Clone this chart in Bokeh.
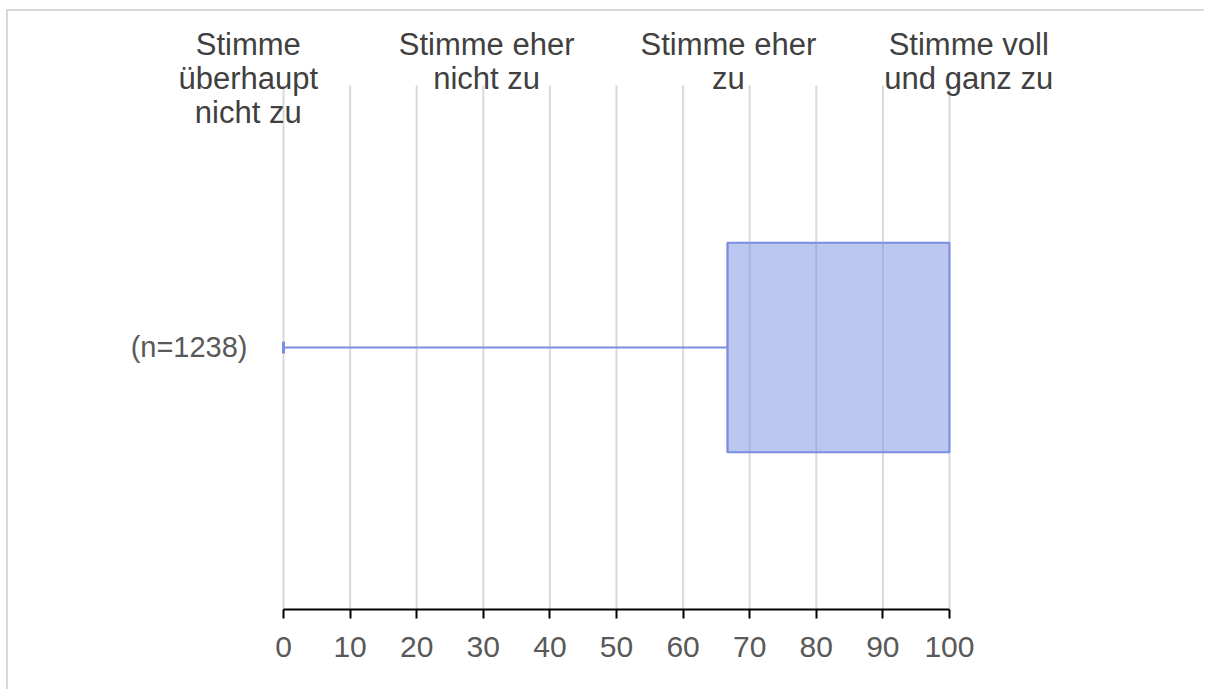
from bokeh.plotting import figure
from bokeh.models import Range1d, FixedTicker
from bokeh.core.properties import value
from bokeh.embed import file_html
from bokeh.resources import INLINE
import math

# ---- data ----
group_label = "(n=1238)"
whisker_low = 0.0
q1 = 66.67
median = 66.67
q3 = 100.0
whisker_high = 100.0
x_ticks = [0, 10, 20, 30, 40, 50, 60, 70, 80, 90, 100]
header_texts = ["Stimme\nüberhaupt\nnicht zu", "Stimme eher\nnicht zu", "Stimme eher\nzu", "Stimme voll\nund ganz zu"]

# ---- layout / style ----
header_x = [-5.3, 30.5, 66.8, 102.9]
header_top_y = 1.078
header_line_step = 0.065
group_y = 0.5
box_height = 0.4
grid_top = 1.0

FONT = "Liberation Sans"
BLUE = "#7a8fe2"
GRID = "#d9d9d9"

p = figure(width=1198, height=680, output_backend="svg", toolbar_location=None,
           x_range=Range1d(-41.3, 138.6), y_range=Range1d(0, 1.1412),
           min_border_left=0, min_border_right=0, min_border_top=0, min_border_bottom=82,
           styles={"margin-left": "6px", "margin-top": "9px",
                   "border-top": "2px solid #d9d9d9", "border-left": "2px solid #d9d9d9"})
p.outline_line_color = None
p.background_fill_color = "white"
p.border_fill_color = "white"
p.xgrid.grid_line_color = None
p.ygrid.grid_line_color = None
p.yaxis.visible = False

# x axis
xa = p.xaxis[0]
xa.ticker = FixedTicker(ticks=x_ticks)
xa.bounds = (x_ticks[0], x_ticks[-1])
xa.axis_line_color = "black"
xa.axis_line_width = 2
xa.major_tick_line_color = "black"
xa.major_tick_line_width = 2
xa.major_tick_out = 9
xa.major_tick_in = 0
xa.minor_tick_line_color = None
xa.major_label_text_font = FONT
xa.major_label_text_font_size = "30px"
xa.major_label_text_color = "#595959"
xa.major_label_standoff = 18

# vertical grid lines
p.segment(x0=x_ticks, y0=[0] * len(x_ticks), x1=x_ticks, y1=[grid_top] * len(x_ticks),
          line_color=GRID, line_width=2)

# whisker
p.segment(x0=[whisker_low], y0=[group_y], x1=[q1], y1=[group_y], line_color=BLUE, line_width=2)
p.scatter(x=[whisker_low], y=[group_y], marker="dash", size=12, angle=math.pi / 2,
          line_color=BLUE, line_width=3)
# median
p.segment(x0=[median], y0=[group_y - box_height / 2], x1=[median], y1=[group_y + box_height / 2],
          line_color="#c9a0c8", line_width=2)
# box
p.quad(left=[q1], right=[q3], bottom=[group_y - box_height / 2], top=[group_y + box_height / 2],
       fill_color=BLUE, fill_alpha=0.5, line_color=BLUE, line_width=2)

# group label
p.text(x=[x_ticks[0]], y=[group_y], text=[group_label], x_offset=-36,
       text_align="right", text_baseline="middle",
       text_font=value(FONT), text_font_size="29px", text_color="#595959")

# headers
hx_list, hy_list, ht_list = [], [], []
for hx, txt in zip(header_x, header_texts):
    for i, line in enumerate(txt.split("\n")):
        hx_list.append(hx)
        hy_list.append(header_top_y - i * header_line_step)
        ht_list.append(line)
p.text(x=hx_list, y=hy_list, text=ht_list, text_align="center", text_baseline="alphabetic",
       text_font=value(FONT), text_font_size="31px", text_color="#404040")

open("out.html", "w").write(file_html(p, INLINE))
